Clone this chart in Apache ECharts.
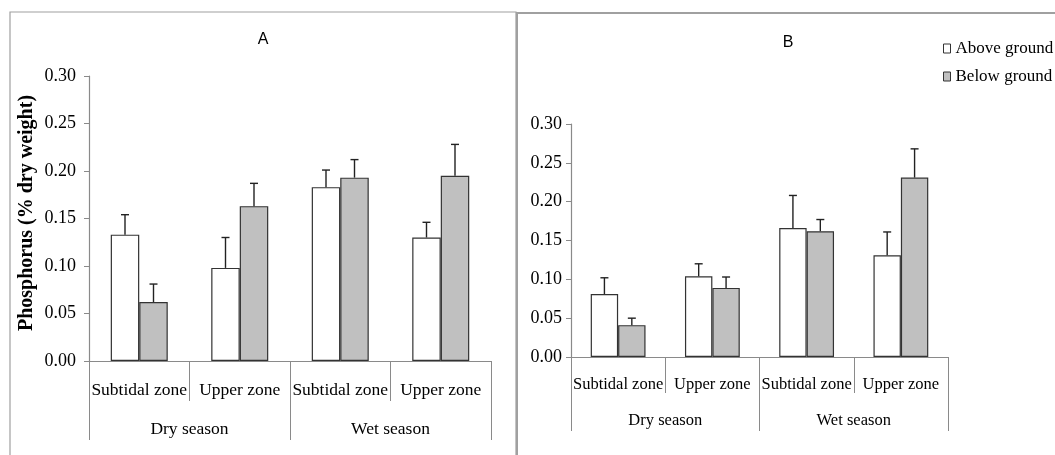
<!DOCTYPE html>
<html>
<head>
<meta charset="utf-8">
<script src="https://cdn.jsdelivr.net/npm/echarts@6/dist/echarts.min.js"></script>
<style>
  html, body { margin: 0; padding: 0; background: #fff; }
  #chart { width: 1055px; height: 455px; }
</style>
</head>
<body>
<div id="chart"></div>
<script>
// categories
const zoneLabels = ["Subtidal zone", "Upper zone", "Subtidal zone", "Upper zone"];
const seasonLabels = ["Dry season", "Wet season"];
const yTicks = [0, 0.05, 0.1, 0.15, 0.2, 0.25, 0.3];

// panel A
const aboveA = [0.133, 0.098, 0.183, 0.130];
const aboveErrA = [0.021, 0.032, 0.018, 0.016];
const belowA = [0.062, 0.163, 0.193, 0.195];
const belowErrA = [0.019, 0.024, 0.019, 0.033];

// panel B
const aboveB = [0.081, 0.104, 0.166, 0.131];
const aboveErrB = [0.021, 0.016, 0.042, 0.030];
const belowB = [0.041, 0.089, 0.162, 0.231];
const belowErrB = [0.009, 0.014, 0.015, 0.037];

const serif = "Liberation Serif";
const axisGray = "#8a8a8a";
const barEdge = "#333333";

var chart = echarts.init(document.getElementById("chart"));

function errData(vals, errs) {
  return vals.map(function (v, i) { return [i, v, errs[i]]; });
}

// error bar drawn next to its bar (side -1 left bar, +1 right bar)
function errSeries(grid, vals, errs, side, bw) {
  return {
    type: "custom",
    name: "err" + grid + side,
    xAxisIndex: grid * 2,
    yAxisIndex: grid,
    z: 5,
    silent: true,
    data: errData(vals, errs),
    encode: { x: 0, y: 1 },
    renderItem: function (params, api) {
      var i = api.value(0), v = api.value(1), e = api.value(2);
      var p0 = api.coord([i, v]);
      var p1 = api.coord([i, v + e]);
      var cx = p0[0] + side * bw / 2;
      var st = { stroke: "#222", lineWidth: 1.4 };
      return {
        type: "group",
        children: [
          { type: "line", shape: { x1: cx, y1: p0[1], x2: cx, y2: p1[1] }, style: st },
          { type: "line", shape: { x1: cx - 4, y1: p1[1], x2: cx + 4, y2: p1[1] }, style: st }
        ]
      };
    }
  };
}

function xAxes(grid, zoneFont, seasonFont, m1, m2, t1, t2) {
  return [
    {
      gridIndex: grid, type: "category", data: zoneLabels, position: "bottom",
      axisLine: { lineStyle: { color: axisGray, width: 1.2 } },
      axisTick: { show: true, interval: 0, length: t1, lineStyle: { color: axisGray } },
      axisLabel: { interval: 0, margin: m1, fontFamily: serif, fontSize: zoneFont, color: "#000" }
    },
    {
      gridIndex: grid, type: "category", data: seasonLabels, position: "bottom",
      axisLine: { show: false },
      axisTick: { show: true, interval: 0, length: t2, lineStyle: { color: axisGray } },
      axisLabel: { interval: 0, margin: m2, fontFamily: serif, fontSize: seasonFont, color: "#000" }
    }
  ];
}

function yAxis(grid, font, margin) {
  return {
    gridIndex: grid, type: "value", min: yTicks[0], max: yTicks[yTicks.length - 1], interval: 0.05,
    splitLine: { show: false },
    axisLine: { show: true, lineStyle: { color: axisGray, width: 1.2 } },
    axisTick: { show: true, length: 5, lineStyle: { color: axisGray } },
    axisLabel: {
      margin: margin, fontFamily: serif, fontSize: font, color: "#000",
      formatter: function (v) { return v.toFixed(2); }
    }
  };
}

function bars(grid, name, vals, fill, bw) {
  return {
    type: "bar", name: name, xAxisIndex: grid * 2, yAxisIndex: grid,
    data: vals, barWidth: bw, barGap: "0%",
    itemStyle: { color: fill, borderColor: barEdge, borderWidth: 1.2 },
    silent: true
  };
}

const bwA = 28.5, bwB = 27.4;

chart.setOption({
  animation: false,
  backgroundColor: "#fff",
  grid: [
    { left: 89, right: 564, top: 76, bottom: 94 },
    { left: 571, right: 107, top: 124, bottom: 98 }
  ],
  legend: {
    data: ["Above ground", "Below ground"],
    orient: "vertical",
    left: 938, top: 34,
    icon: "rect", itemWidth: 7, itemHeight: 9, itemGap: 9,
    itemStyle: { borderWidth: 1 },
    textStyle: { fontFamily: serif, fontSize: 17, color: "#000", lineHeight: 19 }
  },
  xAxis: xAxes(0, 17.5, 17.5, 20, 59, 40, 79).concat(xAxes(1, 16.5, 16.5, 19, 55, 36, 74)),
  yAxis: [yAxis(0, 18, 13), yAxis(1, 18, 9)],
  series: [
    bars(0, "Above ground", aboveA, "#ffffff", bwA),
    bars(0, "Below ground", belowA, "#c0c0c0", bwA),
    bars(1, "Above ground", aboveB, "#ffffff", bwB),
    bars(1, "Below ground", belowB, "#c0c0c0", bwB),
    errSeries(0, aboveA, aboveErrA, -1, bwA),
    errSeries(0, belowA, belowErrA, 1, bwA),
    errSeries(1, aboveB, aboveErrB, -1, bwB),
    errSeries(1, belowB, belowErrB, 1, bwB)
  ],
  graphic: [
    { type: "rect", shape: { x: 10, y: 12, width: 506, height: 480 },
      style: { fill: "none", stroke: "#a0a0a0", lineWidth: 1.2 }, silent: true },
    { type: "rect", shape: { x: 517, y: 13, width: 560, height: 480 },
      style: { fill: "none", stroke: "#a0a0a0", lineWidth: 2 }, silent: true },
    { type: "text", x: 263, y: 40,
      style: { text: "A", fontFamily: "Liberation Sans", fontSize: 16, fill: "#000", textAlign: "center", textVerticalAlign: "middle" } },
    { type: "text", x: 788, y: 43,
      style: { text: "B", fontFamily: "Liberation Sans", fontSize: 16, fill: "#000", textAlign: "center", textVerticalAlign: "middle" } },
    { type: "text", x: 27, y: 213, rotation: Math.PI / 2,
      style: { text: "Phosphorus (% dry weight)", fontFamily: serif, fontWeight: "bold", fontSize: 20, fill: "#000", textAlign: "center", textVerticalAlign: "middle" } }
  ]
});
</script>
</body>
</html>
